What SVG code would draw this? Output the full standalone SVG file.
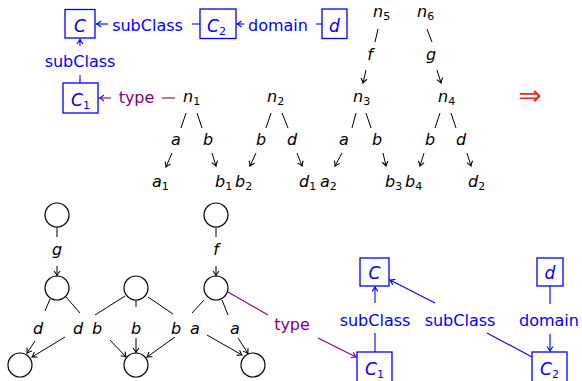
<svg xmlns="http://www.w3.org/2000/svg" width="582" height="381" viewBox="0 0 582 381">
<style>
text{font-family:"DejaVu Sans","Liberation Sans",sans-serif;font-size:16px}
.m{font-style:italic}
.big{font-size:17px}
.s{font-size:11px;font-style:normal}
.blue{fill:#0000ff}
.pur{fill:#800080}
.box{fill:none;stroke:#0000ff;stroke-width:1.3}
.k{stroke:#000;stroke-width:1;fill:none}
.kb{stroke:#0000ff;stroke-width:1.1;fill:none}
.kp{stroke:#800080;stroke-width:1.1;fill:none}
.ak{stroke:#000;stroke-width:1;fill:none;marker-end:url(#ak)}
.ab{stroke:#0000ff;stroke-width:1.1;fill:none;marker-end:url(#ab)}
.ap{stroke:#800080;stroke-width:1.1;fill:none;marker-end:url(#ap)}
.c{fill:#fff;stroke:#000;stroke-width:1.2}
</style>
<defs>
<marker id="ak" markerUnits="userSpaceOnUse" markerWidth="10" markerHeight="10" refX="0" refY="0" viewBox="-6 -5 8 10" orient="auto"><path d="M-4.5,-3 Q-1.5,-0.6 0,0 Q-1.5,0.6 -4.5,3" fill="none" stroke="#000" stroke-width="1.1"/></marker>
<marker id="ab" markerUnits="userSpaceOnUse" markerWidth="10" markerHeight="10" refX="0" refY="0" viewBox="-6 -5 8 10" orient="auto"><path d="M-4.5,-3 Q-1.5,-0.6 0,0 Q-1.5,0.6 -4.5,3" fill="none" stroke="#0000ff" stroke-width="1.2"/></marker>
<marker id="ap" markerUnits="userSpaceOnUse" markerWidth="10" markerHeight="10" refX="0" refY="0" viewBox="-6 -5 8 10" orient="auto"><path d="M-4.5,-3 Q-1.5,-0.6 0,0 Q-1.5,0.6 -4.5,3" fill="none" stroke="#800080" stroke-width="1.2"/></marker>
</defs>

<!-- top schema -->
<g id="topC"><rect class="box" x="65" y="9.5" width="30" height="28.5"/><text class="m big blue" x="80" y="31.5" text-anchor="middle">C</text></g>
<g id="topC2"><rect class="box" x="200" y="9" width="36" height="29.5"/><text class="m big blue" x="207" y="31.5">C<tspan class="s" dy="3">2</tspan></text></g>
<g id="topD"><rect class="box" x="322" y="9" width="25" height="29.5"/><text class="m big blue" x="334.5" y="31.5" text-anchor="middle">d</text></g>
<g id="topC1"><rect class="box" x="63" y="83" width="35" height="30"/><text class="m big blue" x="71" y="106">C<tspan class="s" dy="3">1</tspan></text></g>

<g id="topConnectors">
<line class="kb" x1="200" y1="24" x2="192" y2="24"/><text class="blue" x="147.5" y="31" text-anchor="middle">subClass</text><line class="ab" x1="108" y1="24" x2="96.5" y2="24"/>
<line class="kb" x1="322" y1="24" x2="316" y2="24"/><text class="blue" x="278" y="31" text-anchor="middle">domain</text><line class="ab" x1="244" y1="24" x2="237" y2="24"/>
<line class="kb" x1="80" y1="83" x2="80" y2="75"/><text class="blue" x="80" y="67" text-anchor="middle">subClass</text><line class="ab" x1="80" y1="46" x2="80" y2="39.5"/>
<line class="kp" x1="175" y1="98" x2="162" y2="98"/><text class="pur" x="136.5" y="102.5" text-anchor="middle">type</text><line class="ap" x1="111" y1="98" x2="99.5" y2="98"/>
</g>

<!-- term trees -->
<g id="n1"><text class="m" x="183" y="102">n<tspan class="s" dy="3">1</tspan></text></g>
<g id="n2"><text class="m" x="267" y="102">n<tspan class="s" dy="3">2</tspan></text></g>
<g id="n3"><text class="m" x="353" y="102">n<tspan class="s" dy="3">3</tspan></text></g>
<g id="n4"><text class="m" x="438" y="102">n<tspan class="s" dy="3">4</tspan></text></g>
<g id="n5"><text class="m" x="373" y="17">n<tspan class="s" dy="3">5</tspan></text></g>
<g id="n6"><text class="m" x="417" y="17">n<tspan class="s" dy="3">6</tspan></text></g>
<g id="a1"><text class="m" x="152" y="187">a<tspan class="s" dy="3">1</tspan></text></g>
<g id="b1"><text class="m" x="215" y="187">b<tspan class="s" dy="3">1</tspan></text></g>
<g id="b2"><text class="m" x="235" y="187">b<tspan class="s" dy="3">2</tspan></text></g>
<g id="d1"><text class="m" x="299" y="187">d<tspan class="s" dy="3">1</tspan></text></g>
<g id="a2"><text class="m" x="320" y="187">a<tspan class="s" dy="3">2</tspan></text></g>
<g id="b3"><text class="m" x="385" y="187">b<tspan class="s" dy="3">3</tspan></text></g>
<g id="b4"><text class="m" x="405" y="187">b<tspan class="s" dy="3">4</tspan></text></g>
<g id="d2"><text class="m" x="468" y="187">d<tspan class="s" dy="3">2</tspan></text></g>

<g id="treeConnectors">
<line class="k" x1="378" y1="29" x2="375" y2="42"/><text class="m" x="370" y="60" text-anchor="middle">f</text><line class="ak" x1="366" y1="70" x2="363" y2="83"/>
<line class="k" x1="427" y1="29" x2="432" y2="42"/><text class="m" x="431" y="60" text-anchor="middle">g</text><line class="ak" x1="437" y1="70" x2="441" y2="83"/>

<line class="k" x1="186" y1="113" x2="181" y2="128"/><line class="k" x1="197" y1="113" x2="202" y2="128"/>
<line class="k" x1="271" y1="113" x2="266" y2="128"/><line class="k" x1="282" y1="113" x2="288" y2="128"/>
<line class="k" x1="356" y1="113" x2="352" y2="128"/><line class="k" x1="366" y1="113" x2="371" y2="128"/>
<line class="k" x1="440" y1="113" x2="435" y2="128"/><line class="k" x1="451" y1="113" x2="456" y2="128"/>

<text class="m" x="176" y="145" text-anchor="middle">a</text>
<text class="m" x="208" y="145" text-anchor="middle">b</text>
<text class="m" x="261" y="145" text-anchor="middle">b</text>
<text class="m" x="292" y="145" text-anchor="middle">d</text>
<text class="m" x="344" y="145" text-anchor="middle">a</text>
<text class="m" x="377" y="145" text-anchor="middle">b</text>
<text class="m" x="430" y="145" text-anchor="middle">b</text>
<text class="m" x="461" y="145" text-anchor="middle">d</text>

<line class="ak" x1="172" y1="153" x2="166" y2="167"/>
<line class="ak" x1="212" y1="153" x2="216" y2="166"/>
<line class="ak" x1="256" y1="153" x2="250" y2="166"/>
<line class="ak" x1="297" y1="153" x2="302" y2="166"/>
<line class="ak" x1="342" y1="153" x2="335" y2="166"/>
<line class="ak" x1="383" y1="153" x2="386" y2="166"/>
<line class="ak" x1="424" y1="153" x2="420" y2="166"/>
<line class="ak" x1="467" y1="153" x2="471" y2="166"/>
</g>

<text x="530" y="105" text-anchor="middle" style="font-size:28px;fill:#dd3333">⇒</text>

<!-- bottom graph -->
<g id="gTop"><circle class="c" cx="57" cy="215" r="12"/></g>
<g id="fTop"><circle class="c" cx="216" cy="215" r="12"/></g>
<g id="gMid"><circle class="c" cx="57" cy="288" r="12"/></g>
<g id="bMid"><circle class="c" cx="136" cy="288" r="12"/></g>
<g id="fMid"><circle class="c" cx="216" cy="288" r="12"/></g>
<g id="dBot"><circle class="c" cx="20" cy="365" r="12"/></g>
<g id="bBot"><circle class="c" cx="136" cy="365" r="12"/></g>
<g id="aBot"><circle class="c" cx="253" cy="365" r="12"/></g>

<g id="graphConnectors">
<line class="k" x1="57" y1="227" x2="57" y2="237"/><text class="m" x="57" y="255" text-anchor="middle">g</text><line class="ak" x1="57" y1="266" x2="57" y2="275.5"/>
<line class="k" x1="216" y1="227" x2="216" y2="237"/><text class="m" x="216" y="255" text-anchor="middle">f</text><line class="ak" x1="216" y1="266" x2="216" y2="275.5"/>

<line class="k" x1="50" y1="299" x2="45" y2="311"/><text class="m" x="38" y="334" text-anchor="middle">d</text><line class="ak" x1="35" y1="341" x2="27" y2="353"/>
<line class="k" x1="66" y1="297" x2="80" y2="313"/><text class="m" x="78" y="334" text-anchor="middle">d</text><line class="ak" x1="65" y1="337" x2="32" y2="357"/>

<line class="k" x1="125" y1="296" x2="95" y2="315"/><text class="m" x="97" y="334" text-anchor="middle">b</text><line class="ak" x1="110" y1="340" x2="126" y2="357"/>
<line class="k" x1="136" y1="300" x2="136" y2="307"/><text class="m" x="136" y="334" text-anchor="middle">b</text><line class="ak" x1="136" y1="338" x2="136" y2="352.5"/>
<line class="k" x1="148" y1="297" x2="173" y2="314"/><text class="m" x="176" y="334" text-anchor="middle">b</text><line class="ak" x1="175" y1="337" x2="147" y2="357"/>

<line class="k" x1="204" y1="300" x2="192" y2="313"/><text class="m" x="195" y="334" text-anchor="middle">a</text><line class="ak" x1="207" y1="335" x2="242" y2="355"/>
<line class="k" x1="222" y1="300" x2="228" y2="315"/><text class="m" x="235" y="334" text-anchor="middle">a</text><line class="ak" x1="238" y1="338" x2="248" y2="353.5"/>

<line class="kp" x1="228" y1="292" x2="268" y2="315"/><text class="pur" x="292" y="330" text-anchor="middle">type</text><line class="ap" x1="318" y1="338" x2="356" y2="357"/>
</g>

<!-- bottom-right schema -->
<g id="bC"><rect class="box" x="360" y="258" width="29" height="28"/><text class="m big blue" x="374.5" y="279" text-anchor="middle">C</text></g>
<g id="bD"><rect class="box" x="537" y="258" width="26" height="28"/><text class="m big blue" x="550" y="279" text-anchor="middle">d</text></g>
<g id="bC1"><rect class="box" x="357" y="352" width="35" height="32"/><text class="m big blue" x="365" y="375">C<tspan class="s" dy="3">1</tspan></text></g>
<g id="bC2"><rect class="box" x="532" y="352" width="35" height="32"/><text class="m big blue" x="540" y="375">C<tspan class="s" dy="3">2</tspan></text></g>

<g id="schemaConnectors">
<line class="kb" x1="375" y1="352" x2="375" y2="333"/><text class="blue" x="375" y="326" text-anchor="middle">subClass</text><line class="ab" x1="375" y1="303" x2="375" y2="287"/>
<line class="kb" x1="532" y1="357" x2="487" y2="333"/><text class="blue" x="460" y="326" text-anchor="middle">subClass</text><line class="ab" x1="435" y1="303" x2="390" y2="280"/>
<line class="kb" x1="550" y1="286" x2="550" y2="304"/><text class="blue" x="549" y="326" text-anchor="middle">domain</text><line class="ab" x1="550" y1="334" x2="550" y2="351"/>
</g>
</svg>
